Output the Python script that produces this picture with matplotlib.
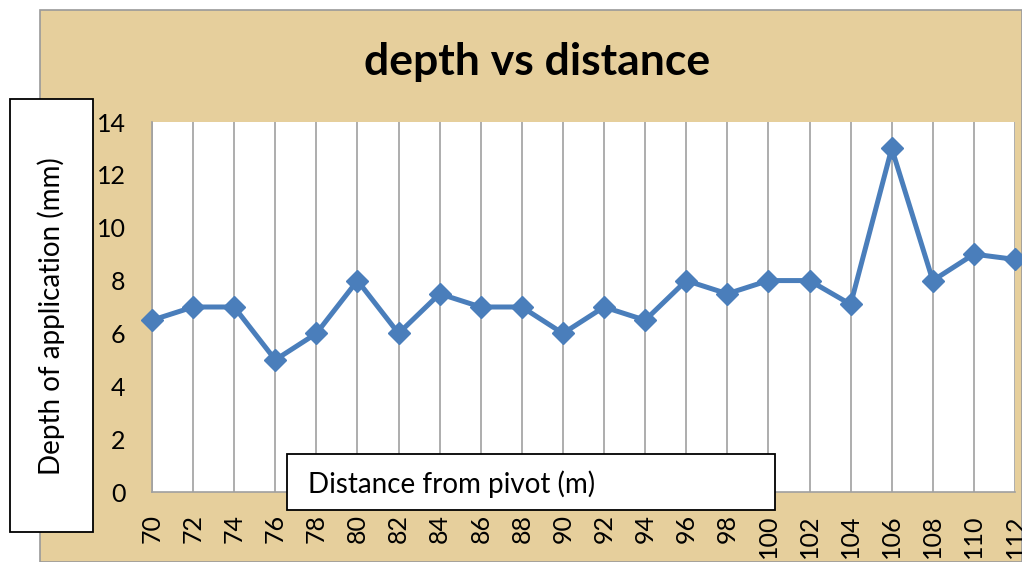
import matplotlib
matplotlib.use("Agg")
import matplotlib.pyplot as plt
from matplotlib.patches import Rectangle

# distance from pivot (m) and depth of application (mm)
distance = [70, 72, 74, 76, 78, 80, 82, 84, 86, 88, 90, 92, 94, 96, 98,
            100, 102, 104, 106, 108, 110, 112]
depth = [6.5, 7, 7, 5, 6, 8, 6, 7.5, 7, 7, 6, 7, 6.5, 8, 7.5,
         8, 8, 7.1, 13, 8, 9, 8.8]
y_ticks = [0, 2, 4, 6, 8, 10, 12, 14]

plt.rcParams['font.family'] = ['Lato', 'DejaVu Sans']

W, H = 1022, 562
fig = plt.figure(figsize=(W / 100, H / 100), dpi=100)
fig.patch.set_facecolor('white')

# parchment-like chart background
fig.patches.append(Rectangle((40 / W, 0), 1 - 40 / W, 1 - 10 / H,
                             transform=fig.transFigure, facecolor='#E6CF9C',
                             edgecolor='#9A9A9A', linewidth=1.2, zorder=-1))

ax = fig.add_axes([152 / W, 70 / H, 863 / W, 370 / H])
ax.set_zorder(1)
ax.set_facecolor('white')
ax.plot(distance, depth, color='#4A7EBB', linewidth=3.6, marker='D',
        markersize=11, clip_on=False, zorder=3)

ax.set_xlim(70, 112)
ax.set_ylim(0, 14)
ax.set_xticks(distance)
ax.set_xticklabels([str(d) for d in distance], rotation=90)
ax.set_yticks(y_ticks)
ax.grid(axis='x', color='#A0A0A0', linewidth=1.2)
ax.set_axisbelow(True)
for side in ['top', 'right']:
    ax.spines[side].set_visible(False)
for side in ['left', 'bottom']:
    ax.spines[side].set_color('#A0A0A0')
    ax.spines[side].set_linewidth(1.2)
ax.tick_params(axis='both', length=0, labelsize=18)
ax.tick_params(axis='y', pad=19)
ax.tick_params(axis='x', pad=16)

fig.text(537 / W, 1 - 62 / H, 'depth vs distance', ha='center', va='center',
         fontsize=32, fontweight='bold')

# y axis title in a box
fig.patches.append(Rectangle((10 / W, 1 - 532 / H), 83 / W, 433 / H,
                             transform=fig.transFigure, facecolor='white',
                             edgecolor='black', linewidth=1.3, zorder=5))
fig.text(51 / W, 1 - 316 / H, 'Depth of application (mm)', rotation=90,
         ha='center', va='center', fontsize=20, zorder=6)

# x axis title in a box
fig.patches.append(Rectangle((287 / W, 1 - 510 / H), 488 / W, 56 / H,
                             transform=fig.transFigure, facecolor='white',
                             edgecolor='black', linewidth=1.3, zorder=5))
fig.text(308 / W, 1 - 484 / H, 'Distance from pivot (m)', ha='left',
         va='center', fontsize=20, zorder=6)

fig.savefig('out.png', dpi=100)
